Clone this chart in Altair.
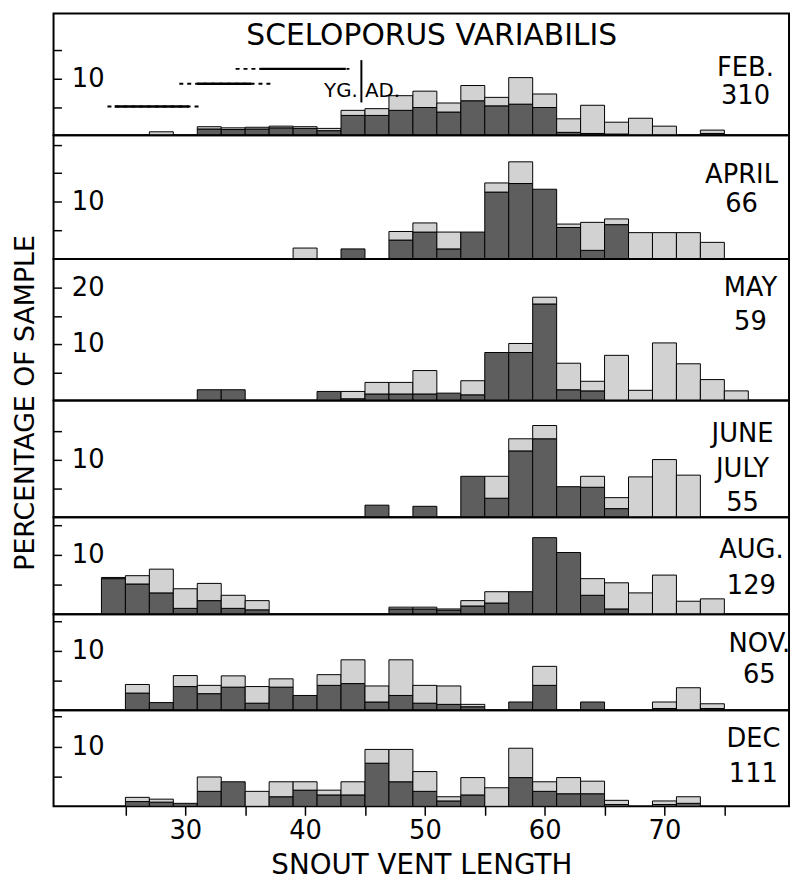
import altair as alt
import pandas as pd

FONT = "DejaVu Sans"

# ---------------- data (percent of sample, 2 mm snout-vent classes) ----------------
BIN_START = list(range(23, 77, 2))   # 23, 25, ..., 75
BIN_WIDTH = 2

FEB_DARK = [0, 0, 0, 0, 1.1, 1.0, 1.1, 1.3, 1.2, 0.8, 3.5, 3.5, 4.4, 4.9, 4.1, 6.1, 5.2, 5.5, 4.9, 0.5, 0.3, 0.2, 0, 0, 0, 0.3, 0]
FEB_LIGHT = [0, 0, 0.6, 0, 0.4, 0.3, 0.3, 0.3, 0.3, 0.4, 0.9, 1.2, 2.6, 2.9, 1.6, 2.7, 1.5, 4.7, 2.4, 2.4, 5.0, 2.1, 3.0, 1.6, 0, 0.6, 0]
APR_DARK = [0, 0, 0, 0, 0, 0, 0, 0, 0, 0, 1.75, 0, 3.3, 4.7, 1.75, 4.7, 11.7, 13.2, 12.2, 5.5, 1.5, 6.0, 0, 0, 0, 0, 0]
APR_LIGHT = [0, 0, 0, 0, 0, 0, 0, 0, 1.9, 0, 0, 0, 1.5, 1.6, 2.95, 0, 1.6, 3.8, 0, 0.6, 4.9, 1.0, 4.6, 4.6, 4.6, 2.9, 0]
MAY_DARK = [0, 0, 0, 0, 1.9, 1.9, 0, 0, 0, 1.6, 0.3, 1.15, 1.15, 1.15, 1.3, 1.0, 8.5, 8.5, 17.1, 1.9, 1.7, 0, 0, 0, 0, 0, 0]
MAY_LIGHT = [0, 0, 0, 0, 0, 0, 0, 0, 0, 0, 1.3, 2.05, 2.05, 4.15, 0, 2.5, 0, 1.6, 1.2, 4.7, 1.7, 8.0, 1.8, 10.2, 6.5, 3.7, 1.7]
JUN_DARK = [0, 0, 0, 0, 0, 0, 0, 0, 0, 0, 0, 2.1, 0, 1.9, 0, 7.1, 3.3, 11.5, 13.6, 5.3, 5.2, 1.5, 0, 0, 0, 0, 0]
JUN_LIGHT = [0, 0, 0, 0, 0, 0, 0, 0, 0, 0, 0, 0, 0, 0, 0, 0, 3.8, 2.1, 2.3, 0, 1.9, 1.9, 7.0, 10.0, 7.3, 0, 0]
AUG_DARK = [6.0, 5.1, 3.6, 1.0, 2.3, 1.0, 0.75, 0, 0, 0, 0, 0, 0.9, 0.9, 0.7, 1.4, 1.9, 3.8, 12.9, 10.4, 3.2, 0.9, 0, 0, 0, 0, 0]
AUG_LIGHT = [0.2, 1.4, 4.0, 3.3, 2.9, 2.2, 1.55, 0, 0, 0, 0, 0, 0.3, 0.3, 0.2, 0.9, 1.9, 0, 0, 0, 2.8, 4.4, 3.6, 6.6, 2.2, 2.6, 0]
NOV_DARK = [0, 2.9, 1.3, 4.0, 2.8, 3.9, 1.2, 3.9, 2.5, 4.2, 4.5, 1.4, 2.5, 1.2, 1.0, 0.6, 0, 1.4, 4.2, 0, 1.4, 0, 0, 0.3, 0, 0.3, 0]
NOV_LIGHT = [0, 1.45, 0, 1.85, 1.4, 1.9, 2.8, 1.4, 0, 1.8, 4.0, 2.7, 6.0, 3.0, 3.1, 0.4, 0, 0, 3.2, 0, 0, 0, 0, 1.1, 3.8, 0.8, 0]
DEC_DARK = [0, 0.8, 0.7, 0.5, 2.5, 4.1, 0, 1.6, 2.7, 1.9, 1.9, 7.2, 4.1, 2.5, 0.9, 1.9, 0, 4.8, 2.5, 2.1, 2.1, 0.3, 0, 0.3, 0.5, 0, 0]
DEC_LIGHT = [0, 0.7, 0.5, 0, 2.4, 0, 2.5, 2.5, 1.4, 0.8, 2.2, 2.3, 5.4, 3.3, 0.7, 2.9, 3.1, 4.9, 1.6, 2.7, 2.1, 0.7, 0, 0.6, 1.1, 0, 0]

DARK = [FEB_DARK, APR_DARK, MAY_DARK, JUN_DARK, AUG_DARK, NOV_DARK, DEC_DARK]
LIGHT = [FEB_LIGHT, APR_LIGHT, MAY_LIGHT, JUN_LIGHT, AUG_LIGHT, NOV_LIGHT, DEC_LIGHT]
PANEL_LINES = [["FEB.", "310"], ["APRIL", "66"], ["MAY", "59"], ["JUNE", "JULY", "55"],
               ["AUG.", "129"], ["NOV.", "65"], ["DEC", "111"]]
Y_TICKS = [[5, 10, 15], [5, 10, 15, 20], [5, 10, 15, 20], [5, 10, 15], [5, 10, 15], [5, 10, 15], [5, 10, 15]]
Y_LABELLED = [[10], [10], [10, 20], [10], [10], [10], [10]]
X_TICKS = [25, 30, 35, 40, 45, 50, 55, 60, 65, 70, 75]

# annotation in the February panel (ranges of young, YG / AD divide)
RANGE_LEVEL = [11.75, 9.1, 5.1]
RANGE_SOLID_FROM = [36.2, 31.0, 24.1]
RANGE_SOLID_TO = [43.4, 35.5, 30.3]
RANGE_DASH_FROM = [34.2, 29.5, 23.5]
RANGE_DASH_TO = [43.7, 37.2, 31.2]
YG_AD_SPLIT = 44.7
YG_AD_BAR = [5.8, 13.3]

# ---------------- layout ----------------
W = 743
PANEL_H = [123, 125, 143, 118, 98, 97, 97]
PX_PER_PCT = [5.7, 5.77, 5.7, 5.83, 6.0, 6.0, 6.05]
X_DOMAIN = [19.0, 80.4]
LABEL_X = [699, 695, 704, 696, 705, 713, 707]
LABEL_Y = [[55, 84], [40, 70], [29, 64], [34, 69, 104], [33, 69], [30, 61], [29, 64]]
DARK_C = "#5e5e5e"
LIGHT_C = "#d2d2d2"
FS = 26


def y_def(field, i):
    ymax = PANEL_H[i] / PX_PER_PCT[i]
    lab = " || ".join(f"datum.value == {v}" for v in Y_LABELLED[i])
    return alt.Y(
        field,
        scale=alt.Scale(domain=[0, ymax], nice=False, zero=True),
        axis=alt.Axis(values=Y_TICKS[i], tickSize=8, offset=-8, domain=False,
                      labelExpr=f"({lab}) ? datum.label : ''", labelAlign="left",
                      labelBaseline="middle", labelPadding=-18, labelFontSize=FS,
                      labelOverlap=False, tickWidth=1.5, title=None, grid=False),
    )


def x_def(field, last):
    if last:
        axis = alt.Axis(values=X_TICKS, tickSize=9, tickWidth=1.5, domain=False,
                        labelExpr="datum.value % 10 == 0 ? datum.label : ''",
                        labelFontSize=FS, labelPadding=3, labelFlush=False,
                        labelOverlap=False, title="SNOUT VENT LENGTH",
                        titleFontSize=28, titleFontWeight="normal", titlePadding=8,
                        grid=False)
    else:
        axis = None
    return alt.X(field, scale=alt.Scale(domain=X_DOMAIN, nice=False, zero=False), axis=axis)


def panel(i):
    last = i == len(DARK) - 1
    rows = []
    for b, d, l in zip(BIN_START, DARK[i], LIGHT[i]):
        if d > 0:
            rows.append({"start": b, "end": b + BIN_WIDTH, "lo": 0.0, "hi": d, "part": "dark"})
        if l > 0:
            rows.append({"start": b, "end": b + BIN_WIDTH, "lo": d, "hi": d + l, "part": "light"})
    df = pd.DataFrame(rows)
    bars = alt.Chart(df).mark_rect(stroke="black", strokeWidth=1).encode(
        x=x_def("start:Q", last), x2="end:Q",
        y=y_def("lo:Q", i), y2="hi:Q",
        color=alt.Color("part:N", scale=alt.Scale(domain=["dark", "light"], range=[DARK_C, LIGHT_C]),
                        legend=None),
    )
    layers = [bars]
    for txt, yy in zip(PANEL_LINES[i], LABEL_Y[i]):
        layers.append(
            alt.Chart(pd.DataFrame({"t": [txt]})).mark_text(
                font=FONT, fontSize=FS, align="center", baseline="middle", color="black"
            ).encode(text="t:N", x=alt.value(LABEL_X[i]), y=alt.value(yy))
        )
    if i == 0:
        layers.append(
            alt.Chart(pd.DataFrame({"t": ["SCELOPORUS VARIABILIS"]})).mark_text(
                font=FONT, fontSize=30, align="center", baseline="middle", color="black"
            ).encode(text="t:N", x=alt.value(382), y=alt.value(23))
        )
        rng = pd.DataFrame({"a": RANGE_SOLID_FROM, "b": RANGE_SOLID_TO,
                            "c": RANGE_DASH_FROM, "d": RANGE_DASH_TO, "lev": RANGE_LEVEL})
        layers.append(alt.Chart(rng).mark_rule(color="black", strokeWidth=2, strokeDash=[4, 4]).encode(
            x=x_def("c:Q", last), x2="d:Q", y=y_def("lev:Q", i)))
        layers.append(alt.Chart(rng).mark_rule(color="black", strokeWidth=2.5).encode(
            x=x_def("a:Q", last), x2="b:Q", y=y_def("lev:Q", i)))
        bar = pd.DataFrame({"x": [YG_AD_SPLIT], "lo": [YG_AD_BAR[0]], "hi": [YG_AD_BAR[1]]})
        layers.append(alt.Chart(bar).mark_rule(color="black", strokeWidth=2).encode(
            x=x_def("x:Q", last), y=y_def("lo:Q", i), y2="hi:Q"))
        yg = pd.DataFrame({"t": ["YG."], "x": [YG_AD_SPLIT - 0.3], "y": [7.9]})
        ad = pd.DataFrame({"t": ["AD."], "x": [YG_AD_SPLIT + 0.3], "y": [7.9]})
        layers.append(alt.Chart(yg).mark_text(font=FONT, fontSize=20, align="right", baseline="middle",
                                              color="black").encode(
            text="t:N", x=x_def("x:Q", last), y=y_def("y:Q", i)))
        layers.append(alt.Chart(ad).mark_text(font=FONT, fontSize=20, align="left", baseline="middle",
                                              color="black").encode(
            text="t:N", x=x_def("x:Q", last), y=y_def("y:Q", i)))
    return alt.layer(*layers).properties(width=W, height=PANEL_H[i])


panels = [panel(i) for i in range(len(DARK))]

chart = alt.vconcat(*panels, spacing=0, bounds="flush").properties(
    title=alt.TitleParams("PERCENTAGE OF SAMPLE", orient="left", anchor="middle",
                          fontSize=27, fontWeight="normal", font=FONT, color="black",
                          offset=12, dx=44),
    padding={"left": 4, "top": 0, "right": 0, "bottom": 0},
).configure_view(stroke="black", strokeWidth=2).configure_axis(
    labelFont=FONT, titleFont=FONT, labelColor="black", titleColor="black",
    tickColor="black", domainColor="black", grid=False
)

chart.save("out.html", embed_options={"renderer": "svg", "actions": False})
